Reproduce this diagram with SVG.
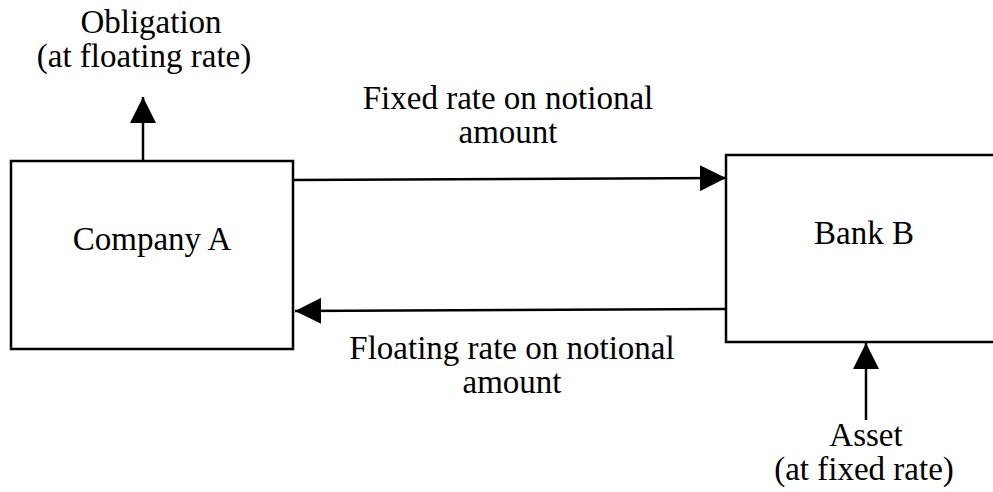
<svg xmlns="http://www.w3.org/2000/svg" width="993" height="492" viewBox="0 0 993 492">
<style>
.box{fill:#fff;stroke:#000;stroke-width:2.5}
.lbl{font-size:33px;fill:#000;text-anchor:middle}
.con{stroke:#000;stroke-width:2.5;fill:none}
</style>
<defs>
<marker id="ah" markerUnits="userSpaceOnUse" markerWidth="26" markerHeight="26" viewBox="0 0 26 26" refX="26" refY="13" orient="auto">
<path d="M0,0 L26,13 L0,26 Z" fill="#000"/>
</marker>
</defs>
<rect width="993" height="492" fill="#fff"/>
<g id="companyA">
<rect class="box" x="11" y="161" width="282" height="188"/>
<text class="lbl" x="152" y="250" font-family="Times New Roman">Company A</text>
</g>
<g id="bankB">
<rect class="box" x="726" y="155" width="290" height="187"/>
<text class="lbl" x="864" y="244" font-family="Times New Roman">Bank B</text>
</g>
<g id="obligation">
<text class="lbl" x="151" y="33" font-family="Times New Roman">Obligation</text>
<text class="lbl" x="144" y="67" font-family="Times New Roman">(at floating rate)</text>
</g>
<g id="asset">
<text class="lbl" x="866" y="446" font-family="Times New Roman">Asset</text>
<text class="lbl" x="864" y="480" font-family="Times New Roman">(at fixed rate)</text>
</g>
<g id="connectors">
<line class="con" x1="143" y1="161" x2="143" y2="97" marker-end="url(#ah)"/>
<line class="con" x1="293" y1="180" x2="726" y2="178" marker-end="url(#ah)"/>
<line class="con" x1="726" y1="309" x2="295" y2="311" marker-end="url(#ah)"/>
<line class="con" x1="866" y1="420" x2="866" y2="343" marker-end="url(#ah)"/>
<text class="lbl" x="508" y="109" font-family="Times New Roman">Fixed rate on notional</text>
<text class="lbl" x="508" y="143" font-family="Times New Roman">amount</text>
<text class="lbl" x="512" y="359" font-family="Times New Roman">Floating rate on notional</text>
<text class="lbl" x="512" y="393" font-family="Times New Roman">amount</text>
</g>
</svg>
